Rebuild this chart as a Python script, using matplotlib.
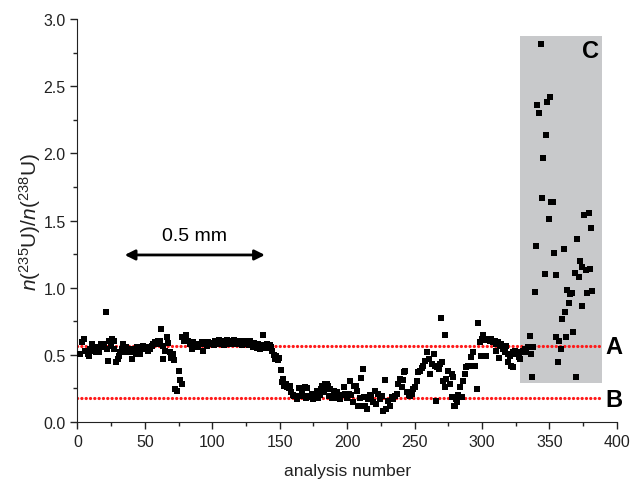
import matplotlib
matplotlib.use('Agg')
import matplotlib.pyplot as plt
from matplotlib.patches import Rectangle
from matplotlib.ticker import MultipleLocator

plt.rcParams['font.family'] = ['Liberation Sans', 'DejaVu Sans']
plt.rcParams['mathtext.fontset'] = 'custom'
plt.rcParams['mathtext.rm'] = 'Liberation Sans'
plt.rcParams['mathtext.it'] = 'Liberation Sans:italic'

# analysis 0-98: first plateau and small dip
x_seg1 = [1.9, 3.1, 5.1, 5.6, 7.5, 8.5, 9.3, 10.5, 11.7, 13.0, 13.5, 14.9, 15.9, 17.4, 18.4,
          19.9, 20.9, 21.6, 22.4, 23.6, 24.8, 25.8, 27.3, 27.3, 28.5, 29.8, 30.8, 31.5, 32.7,
          33.9, 34.7, 35.7, 36.4, 37.7, 38.9, 40.2, 40.6, 42.1, 43.1, 43.9, 45.1, 46.3, 47.6,
          48.8, 50.0, 51.3, 52.5, 53.7, 55.0, 56.2, 57.5, 58.7, 59.9, 61.2, 61.9, 63.1, 63.6,
          64.9, 66.1, 67.3, 68.6, 69.3, 70.5, 71.8, 72.3, 73.5, 75.5, 76.0, 77.2, 77.7, 78.8,
          80.4, 81.7, 83.4, 84.6, 85.9, 87.1, 88.4, 89.6, 90.8, 92.0, 93.3, 94.5, 95.8, 97.0, 98.2]
y_seg1 = [0.507, 0.594, 0.62, 0.532, 0.507, 0.494, 0.544, 0.581, 0.532, 0.557, 0.519, 0.544,
          0.524, 0.581, 0.557, 0.581, 0.822, 0.544, 0.457, 0.606, 0.569, 0.62, 0.606, 0.544,
          0.445, 0.47, 0.494, 0.519, 0.544, 0.581, 0.519, 0.557, 0.532, 0.544, 0.519, 0.47,
          0.532, 0.544, 0.507, 0.557, 0.519, 0.507, 0.544, 0.569, 0.544, 0.557, 0.532, 0.544,
          0.569, 0.581, 0.594, 0.581, 0.6, 0.606, 0.693, 0.569, 0.47, 0.532, 0.631, 0.587,
          0.519, 0.474, 0.507, 0.464, 0.246, 0.228, 0.383, 0.313, 0.283, 0.631, 0.6,
          0.649, 0.606, 0.581, 0.544, 0.594, 0.569, 0.581, 0.557, 0.581, 0.594, 0.532, 0.581,
          0.569, 0.594, 0.581]

# analysis 99-143: second plateau
x_seg2 = [99, 100, 101, 102, 103, 104, 105, 106, 107, 108, 109, 110, 111, 112, 113, 114, 115,
          116, 117, 118, 119, 120, 121, 122, 123, 124, 125, 126, 127, 128, 129, 130, 131, 132,
          133, 134, 135, 136, 137.7, 138.5, 139.5, 140.5, 141.5, 142.5]
y_seg2 = [0.58, 0.59, 0.57, 0.60, 0.58, 0.59, 0.61, 0.58, 0.60, 0.59, 0.57, 0.60, 0.61, 0.59,
          0.58, 0.60, 0.59, 0.61, 0.58, 0.60, 0.59, 0.58, 0.60, 0.57, 0.59, 0.60, 0.58, 0.59,
          0.57, 0.60, 0.58, 0.56, 0.59, 0.57, 0.55, 0.58, 0.545, 0.57, 0.65, 0.57, 0.55, 0.58,
          0.56, 0.57]

# analysis 143-300: drop and low region
x_seg3 = [143.5, 144.5, 145.5, 146.5, 147.5, 148.5, 149.5, 150.9, 152.0, 152.6, 153.5, 154.5,
          155.5, 156.5, 157.5, 158.5, 159.5, 160.5, 161.7, 163.0,
          164.4, 165.5, 166.5, 167.7, 168.6, 169.5, 170.5, 171.3, 172.5, 173.8, 175.0, 176.0,
          177.5, 178.5, 179.5, 180.5, 181.5, 182.5, 183.7, 184.7, 185.5, 186.2, 187.5, 188.5,
          189.9, 191.2, 192.4, 193.5, 194.9, 196.0, 197.3, 198.6, 200.0, 201.0, 202.0, 203.0,
          204.5, 205.3, 206.2, 207.0, 208.0, 209.5, 210.6, 211.0, 211.9, 212.5, 213.2, 214.4,
          215.6, 217.0, 218.0, 219.3, 220.5, 221.7, 223.0, 224.2, 225.5, 226.7, 228.0, 229.0,
          230.4, 231.5, 232.9, 234.0, 235.4, 236.6, 237.9, 239.1, 240.4, 241.6, 242.3, 243.0,
          244.5, 245.5, 246.7, 248.0, 249.2, 250.4, 251.7, 252.9, 254.2, 255.5, 256.6, 257.9,
          259.1, 260.4, 261.6, 262.9, 264.1, 265.4, 265.9, 266.6, 267.9, 269.1, 269.6, 270.4,
          271.1, 272.4, 272.9, 273.6, 274.9, 276.1, 277.4, 277.9, 278.6, 279.2, 279.9, 280.5,
          281.1, 282.3, 283.4, 284.9, 286.0, 287.3, 288.5, 289.7, 291.0, 291.7, 293.5, 294.7,
          296.0, 297.2, 298.4, 299.6, 299.7, 300.9]
y_seg3 = [0.56, 0.53, 0.50, 0.47, 0.49, 0.46, 0.48, 0.39, 0.30, 0.32, 0.27, 0.28,
          0.26, 0.25, 0.27, 0.22, 0.20, 0.19, 0.196, 0.171,
          0.251, 0.19, 0.22, 0.196, 0.258, 0.18, 0.25, 0.184, 0.19, 0.209, 0.171, 0.19,
          0.233, 0.18, 0.20, 0.246, 0.265, 0.221, 0.283, 0.28, 0.271, 0.196, 0.246, 0.18,
          0.233, 0.196, 0.221, 0.18, 0.171, 0.20, 0.258, 0.209, 0.18, 0.209, 0.308, 0.20,
          0.146, 0.27, 0.271, 0.233, 0.121, 0.18, 0.328, 0.121, 0.395, 0.184, 0.122, 0.097,
          0.171, 0.20, 0.184, 0.15, 0.233, 0.134, 0.209, 0.171, 0.19, 0.084, 0.313, 0.097,
          0.159, 0.12, 0.184, 0.17, 0.196, 0.209, 0.283, 0.32, 0.258, 0.313, 0.37, 0.383,
          0.221, 0.20, 0.196, 0.209, 0.246, 0.258, 0.308, 0.37, 0.383, 0.40, 0.42, 0.457,
          0.519, 0.47, 0.358, 0.433, 0.507, 0.42, 0.159, 0.408, 0.395, 0.433, 0.775, 0.445,
          0.308, 0.651, 0.258, 0.32, 0.383, 0.283, 0.358, 0.184, 0.333, 0.121, 0.121, 0.171,
          0.146, 0.20, 0.258, 0.184, 0.308, 0.358, 0.408, 0.42, 0.42, 0.482, 0.519, 0.42,
          0.246, 0.735, 0.594, 0.494, 0.62, 0.65]

# analysis 301-338: return to plateau
x_seg4 = [302.0, 303.3, 304.5, 305.8, 307.0, 308.2, 309.4, 310.2, 310.7, 311.9, 312.7, 313.1,
          314.4, 315.6, 316.9, 318.1, 319.3, 319.3, 320.5, 321.8, 323.0, 323.0, 324.3, 325.5,
          326.7, 327.5, 328.5, 329.2, 330.4, 331.7, 332.9, 334.1, 335.4, 336.6, 337.3, 337.8]
y_seg4 = [0.61, 0.494, 0.62, 0.606, 0.62, 0.594, 0.606, 0.532, 0.581, 0.594, 0.474, 0.569,
          0.581, 0.544, 0.519, 0.569, 0.507, 0.445, 0.494, 0.42, 0.408, 0.519, 0.532, 0.507,
          0.519, 0.482, 0.47, 0.519, 0.532, 0.544, 0.519, 0.557, 0.643, 0.507, 0.338, 0.557]

# region C: scattered high values
x_segC = [339.6, 340.4, 341.1, 342.4, 343.6, 344.6, 345.3, 346.6, 347.3, 348.5, 349.5, 350.3,
          351.0, 352.8, 353.5, 354.8, 355.2, 356.4, 356.9, 358.4, 359.4, 360.7, 361.4, 362.6,
          363.4, 364.6, 365.1, 366.4, 367.6, 368.7, 370.0, 370.8, 371.7, 372.5, 373.8, 374.5,
          375.5, 377.0, 377.7, 379.0, 380.0, 380.7, 381.9]
y_segC = [0.971, 1.309, 2.362, 2.30, 2.812, 1.667, 1.967, 1.103, 2.139, 2.387, 1.51, 2.424,
          1.637, 1.637, 1.259, 1.093, 0.631, 0.445, 0.60, 0.544, 0.768, 1.291, 0.817, 0.631,
          0.984, 0.887, 0.954, 0.96, 0.668, 1.108, 0.333, 1.364, 1.083, 1.197, 1.153, 0.862,
          1.542, 1.135, 0.958, 1.557, 1.138, 1.443, 0.972]

level_A = 0.565
level_B = 0.178

x_all = x_seg1 + x_seg2 + x_seg3 + x_seg4 + x_segC
y_all = y_seg1 + y_seg2 + y_seg3 + y_seg4 + y_segC

fig = plt.figure(figsize=(6.32, 4.81), dpi=100)
ax = fig.add_axes([0.1226, 0.1206, 0.8534, 0.8374])

ax.add_patch(Rectangle((328, 0.29), 61, 2.586, facecolor='#c8c9cb', edgecolor='none', zorder=1))
ax.scatter(x_all, y_all, marker='s', s=14, color='black', linewidths=0, zorder=3)

for lvl in (level_A, level_B):
    ax.plot([0, 387], [lvl, lvl], color='#ff1a1a', lw=2.3, linestyle=(0, (0.05, 1.3)),
            dash_capstyle='round', zorder=2)

ax.text(397.5, level_A, 'A', fontsize=17, fontweight='bold', ha='center', va='center')
ax.text(397.5, level_B - 0.01, 'B', fontsize=17, fontweight='bold', ha='center', va='center')
ax.text(380.5, 2.765, 'C', fontsize=17, fontweight='bold', ha='center', va='center')

ax.annotate('', xy=(35, 1.244), xytext=(139, 1.244),
            arrowprops=dict(arrowstyle='<|-|>', color='black', lw=2,
                            mutation_scale=15, shrinkA=0, shrinkB=0))
ax.text(87, 1.39, '0.5 mm', fontsize=14, ha='center', va='center')

ax.set_xlim(0, 400)
ax.set_ylim(0, 3.0)
ax.xaxis.set_major_locator(MultipleLocator(50))
ax.xaxis.set_minor_locator(MultipleLocator(25))
ax.yaxis.set_major_locator(MultipleLocator(0.5))
ax.yaxis.set_minor_locator(MultipleLocator(0.25))
ax.yaxis.set_major_formatter(plt.FormatStrFormatter('%.1f'))
ax.tick_params(which='major', direction='out', length=5, width=1, labelsize=11.5, colors='#222222')
ax.tick_params(which='minor', direction='out', length=3, width=1, colors='#222222')
for s in ('left', 'bottom'):
    ax.spines[s].set_color('#222222')
ax.spines['top'].set_visible(False)
ax.spines['right'].set_visible(False)
ax.set_xlabel('analysis number', fontsize=12.5, labelpad=10, color='#222222')
ax.set_ylabel(r'$n(^{235}\mathrm{U})/n(^{238}\mathrm{U})$', fontsize=15, labelpad=0, color='#222222')

fig.savefig('out.png', dpi=100)
